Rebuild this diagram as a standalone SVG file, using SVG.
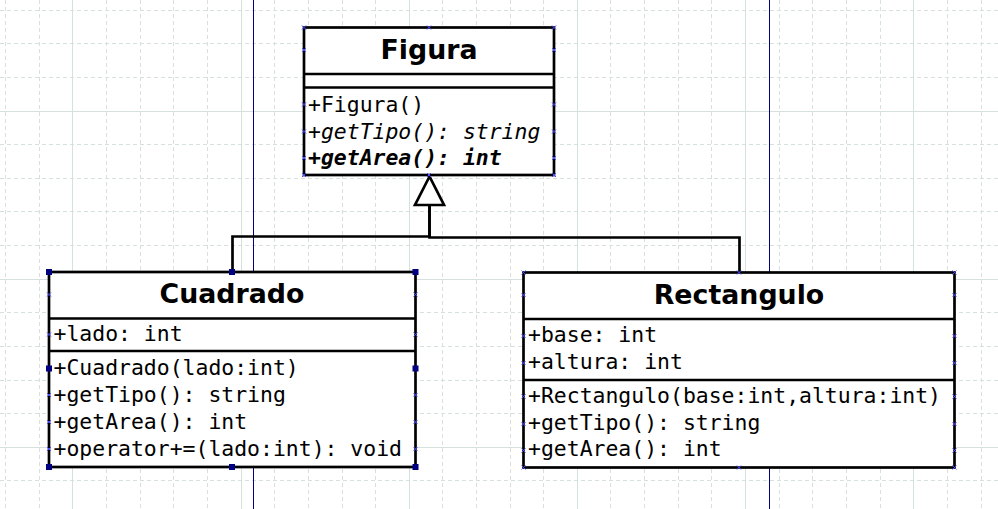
<svg xmlns="http://www.w3.org/2000/svg" xmlns:xlink="http://www.w3.org/1999/xlink" width="998" height="509" viewBox="0 0 998 509">
<style>
.minor{stroke:#d6e1de;stroke-width:1;stroke-dasharray:4,3;fill:none}
.major{stroke:#d6e1de;stroke-width:1;fill:none}
.page{stroke:#000080;stroke-width:1;fill:none}
.box{fill:#fff;stroke:#000;stroke-width:2.7}
.sep{stroke:#000;stroke-width:2.7;fill:none}
.conn{stroke:#000;stroke-width:2.7;fill:none}
.title{font-family:"DejaVu Sans",Verdana,sans-serif;font-weight:bold;font-size:26.8px;text-anchor:middle;fill:#000}
.mono{font-family:"DejaVu Sans Mono","Liberation Mono",monospace;font-size:21.45px;fill:#000}
.it{font-style:italic}
.bd{font-weight:bold}
.cp{stroke:#4a4aff;stroke-width:1;fill:none}
.handle{fill:#000080}
</style>
<defs>
<path id="cp" class="cp" d="M-2,-2 L2,2 M2,-2 L-2,2"/>
<rect id="h" class="handle" x="-3" y="-3" width="6" height="6"/>
</defs>
<rect width="998" height="509" fill="#fff"/>
<g id="grid">
<path class="minor" d="M5.5,0V509M39.5,0V509M106.5,0V509M140.5,0V509M173.5,0V509M207.5,0V509M274.5,0V509M308.5,0V509M342.5,0V509M375.5,0V509M442.5,0V509M476.5,0V509M510.5,0V509M543.5,0V509M610.5,0V509M644.5,0V509M678.5,0V509M711.5,0V509M779.5,0V509M812.5,0V509M846.5,0V509M880.5,0V509M947.5,0V509M981.5,0V509M0,10.5H998M0,43.5H998M0,77.5H998M0,144.5H998M0,178.5H998M0,211.5H998M0,245.5H998M0,312.5H998M0,346.5H998M0,380.5H998M0,413.5H998M0,480.5H998"/>
<path class="major" d="M72.5,0V509M241.5,0V509M409.5,0V509M577.5,0V509M745.5,0V509M913.5,0V509M0,111.5H998M0,279.5H998M0,447.5H998"/>
<path class="page" d="M253.5,0V509M769.5,0V509"/>
</g>
<g id="connectors">
<path class="conn" d="M429.5,205V236.5H232.5V272"/>
<path class="conn" d="M429.5,205V237.5H739.5V272.5"/>
<polygon class="conn" style="fill:#fff" points="429.5,176.5 415,205 444,205"/>
</g>
<g id="Figura">
<rect class="box" x="304" y="27.5" width="250" height="147.5"/>
<path class="sep" d="M304,74H554M304,87.5H554"/>
<text class="title" x="429" y="58.5">Figura</text>
<text class="mono" x="308" y="111.5">+Figura()</text>
<text class="mono it" x="308" y="138.5">+getTipo(): string</text>
<text class="mono it bd" x="308" y="165">+getArea(): int</text>
</g>
<g id="Cuadrado">
<rect class="box" x="49" y="272" width="366.5" height="195"/>
<path class="sep" d="M49,318.5H415.5M49,351H415.5"/>
<text class="title" x="232" y="303">Cuadrado</text>
<text class="mono" x="53.5" y="341">+lado: int</text>
<text class="mono" x="53.5" y="375">+Cuadrado(lado:int)</text>
<text class="mono" x="53.5" y="402">+getTipo(): string</text>
<text class="mono" x="53.5" y="429">+getArea(): int</text>
<text class="mono" x="53.5" y="456">+operator+=(lado:int): void</text>
</g>
<g id="Rectangulo">
<rect class="box" x="523.5" y="272.5" width="431" height="195"/>
<path class="sep" d="M523.5,319H954.5M523.5,380H954.5"/>
<text class="title" x="739" y="303.5">Rectangulo</text>
<text class="mono" x="528" y="341.5">+base: int</text>
<text class="mono" x="528" y="368.5">+altura: int</text>
<text class="mono" x="528" y="402.5">+Rectangulo(base:int,altura:int)</text>
<text class="mono" x="528" y="429.5">+getTipo(): string</text>
<text class="mono" x="528" y="456">+getArea(): int</text>
</g>
<g id="connection-points">
<use xlink:href="#cp" x="304" y="27.5"/><use xlink:href="#cp" x="429" y="27.5"/><use xlink:href="#cp" x="554" y="27.5"/>
<use xlink:href="#cp" x="304" y="50"/><use xlink:href="#cp" x="554" y="50"/>
<use xlink:href="#cp" x="304" y="104.5"/><use xlink:href="#cp" x="554" y="104.5"/>
<use xlink:href="#cp" x="304" y="131.5"/><use xlink:href="#cp" x="554" y="131.5"/>
<use xlink:href="#cp" x="304" y="158"/><use xlink:href="#cp" x="554" y="158"/>
<use xlink:href="#cp" x="304" y="175"/><use xlink:href="#cp" x="429" y="175"/><use xlink:href="#cp" x="554" y="175"/>
<use xlink:href="#cp" x="49" y="294.5"/><use xlink:href="#cp" x="415.5" y="294.5"/>
<use xlink:href="#cp" x="49" y="334.5"/><use xlink:href="#cp" x="415.5" y="334.5"/>
<use xlink:href="#cp" x="49" y="395"/><use xlink:href="#cp" x="415.5" y="395"/>
<use xlink:href="#cp" x="49" y="422"/><use xlink:href="#cp" x="415.5" y="422"/>
<use xlink:href="#cp" x="49" y="449"/><use xlink:href="#cp" x="415.5" y="449"/>
<use xlink:href="#cp" x="523.5" y="272.5"/><use xlink:href="#cp" x="739" y="272.5"/><use xlink:href="#cp" x="954.5" y="272.5"/>
<use xlink:href="#cp" x="523.5" y="295"/><use xlink:href="#cp" x="954.5" y="295"/>
<use xlink:href="#cp" x="523.5" y="336"/><use xlink:href="#cp" x="954.5" y="336"/>
<use xlink:href="#cp" x="523.5" y="363"/><use xlink:href="#cp" x="954.5" y="363"/>
<use xlink:href="#cp" x="523.5" y="396.5"/><use xlink:href="#cp" x="954.5" y="396.5"/>
<use xlink:href="#cp" x="523.5" y="424"/><use xlink:href="#cp" x="954.5" y="424"/>
<use xlink:href="#cp" x="523.5" y="450.5"/><use xlink:href="#cp" x="954.5" y="450.5"/>
<use xlink:href="#cp" x="523.5" y="467.5"/><use xlink:href="#cp" x="739" y="467.5"/><use xlink:href="#cp" x="954.5" y="467.5"/>
</g>
<g id="selection-handles">
<use xlink:href="#h" x="49" y="272"/><use xlink:href="#h" x="232" y="272"/><use xlink:href="#h" x="415.5" y="272"/>
<use xlink:href="#h" x="49" y="368.5"/><use xlink:href="#h" x="415.5" y="368.5"/>
<use xlink:href="#h" x="49" y="467"/><use xlink:href="#h" x="232" y="467"/><use xlink:href="#h" x="415.5" y="467"/>
</g>
</svg>
